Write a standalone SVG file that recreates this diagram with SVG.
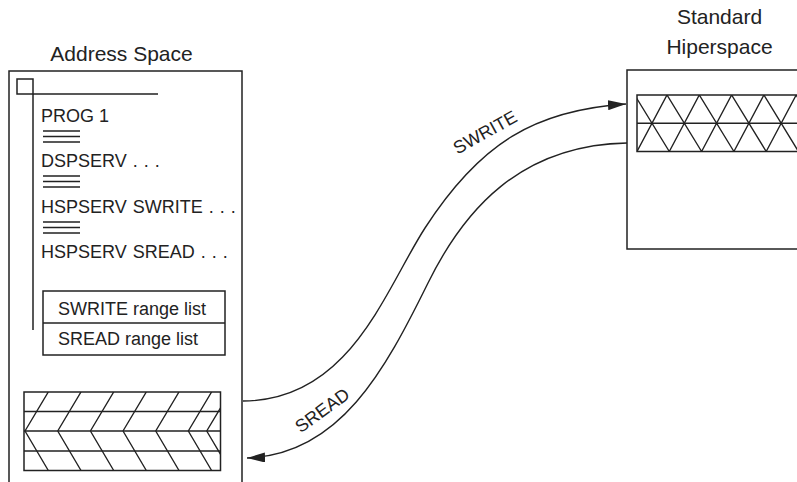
<svg xmlns="http://www.w3.org/2000/svg" width="797" height="482" viewBox="0 0 797 482">
  <defs>
    <style>
      .ln { fill: none; stroke: #222; stroke-width: 1.5; }
      .thin { fill: none; stroke: #222; stroke-width: 1.4; }
      .t { font-family: "Liberation Sans", Arial, Helvetica, sans-serif; fill: #222; }
      .title { font-size: 21px; text-anchor: middle; }
      .body { font-size: 18px; }
      .dots { word-spacing: 1px; }
      .lbl { font-size: 18px; text-anchor: middle; }
    </style>
    <marker id="arrow" viewBox="0 0 18 10" refX="18" refY="5" markerWidth="18" markerHeight="10" markerUnits="userSpaceOnUse" orient="auto">
      <path d="M0,0 L18,5 L0,10 Z" fill="#222"/>
    </marker>
    <clipPath id="clipA"><rect x="24" y="392" width="196.5" height="78.5"/></clipPath>
    <clipPath id="clipH"><rect x="637" y="95" width="170" height="56.5"/></clipPath>
  </defs>

  <g id="address-space">
    <text class="t title" x="121.5" y="61">Address Space</text>
    <path class="ln" d="M9,484 V71 H242 V484"/>
    <rect class="ln" x="17" y="79" width="16" height="15"/>
    <path class="ln" d="M33,94 H158 M33,94 V330"/>
    <text class="t body" x="41" y="122">PROG 1</text>
    <path class="ln" d="M43,131 H80 M43,136.5 H80 M43,142 H80"/>
    <text class="t body dots" x="41" y="167">DSPSERV . . .</text>
    <path class="ln" d="M43,176 H80 M43,181.5 H80 M43,187 H80"/>
    <text class="t body dots" x="41" y="213">HSPSERV SWRITE . . .</text>
    <path class="ln" d="M43,222 H80 M43,227.5 H80 M43,233 H80"/>
    <text class="t body dots" x="41" y="258">HSPSERV SREAD . . .</text>
    <g id="range-lists">
      <rect class="ln" x="43" y="291" width="182" height="64"/>
      <path class="ln" d="M43,323 H225"/>
      <text class="t body" x="58" y="315">SWRITE range list</text>
      <text class="t body" x="58" y="345">SREAD range list</text>
    </g>
    <g id="address-data">
      <rect class="ln" x="24" y="392" width="196.5" height="78.5"/>
      <path class="ln" d="M24,411.5 H220.5 M24,431 H220.5 M24,451 H220.5"/>
      <g clip-path="url(#clipA)">
        <path class="thin" d="M25,431 L48.3,392 M25,431 L48.3,470.5
          M57.7,431 L81,392 M57.7,431 L81,470.5
          M90.4,431 L113.7,392 M90.4,431 L113.7,470.5
          M123,431 L146.3,392 M123,431 L146.3,470.5
          M155.7,431 L179,392 M155.7,431 L179,470.5
          M188.3,431 L211.6,392 M188.3,431 L211.6,470.5
          M206.7,431 L230,392 M206.7,431 L230,470.5"/>
      </g>
    </g>
  </g>

  <g id="hiperspace">
    <text class="t title" x="719.5" y="24">Standard</text>
    <text class="t title" x="719.5" y="54">Hiperspace</text>
    <rect class="ln" x="627" y="70" width="180" height="179"/>
    <g id="hiper-data">
      <rect class="ln" x="637" y="95" width="170" height="56.5"/>
      <path class="ln" d="M637,123.3 H807"/>
      <g clip-path="url(#clipH)">
        <path class="thin" d="M637,151.5 L667,95 M669.3,151.5 L699.3,95 M701.6,151.5 L731.6,95 M733.9,151.5 L763.9,95 M766.2,151.5 L796.2,95 M798.5,151.5 L828.5,95
          M634.7,95 L669.3,151.5 M667,95 L701.6,151.5 M699.3,95 L733.9,151.5 M731.6,95 L766.2,151.5 M763.9,95 L798.5,151.5 M796.2,95 L830.8,151.5"/>
      </g>
    </g>
  </g>

  <g id="connectors">
    <path class="thin" marker-end="url(#arrow)" d="M243,401 C350,401 385,290 425,228 C480,143 535,110 626,104"/>
    <path class="thin" marker-end="url(#arrow)" d="M627,143 C520,145 464,210 428,283 C385,370 340,455 247,458"/>
    <text class="t lbl" transform="translate(488,137.7) rotate(-29)">SWRITE</text>
    <text class="t lbl" transform="translate(325.8,415.3) rotate(-36)">SREAD</text>
  </g>
</svg>
